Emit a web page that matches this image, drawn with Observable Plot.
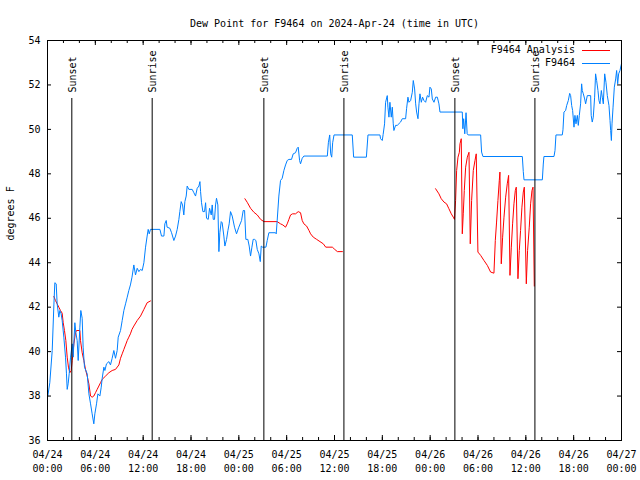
<!DOCTYPE html>
<html><head><meta charset="utf-8">
<script src="https://cdn.jsdelivr.net/npm/d3@7"></script>
<script src="https://cdn.jsdelivr.net/npm/@observablehq/plot@0.6"></script>
<style>body{margin:0;background:#fff}</style>
</head><body><div id="chart"></div>
<script>
const title = "Dew Point for F9464 on 2024-Apr-24 (time in UTC)";
const yLabel = "degrees F";
const startUTC = Date.UTC(2024, 3, 24, 0, 0);
const endUTC = Date.UTC(2024, 3, 27, 0, 0);
const yTicks = [36, 38, 40, 42, 44, 46, 48, 50, 52, 54];
const xLabelHours = [0, 6, 12, 18, 24, 30, 36, 42, 48, 54, 60, 66, 72];
const xMinorHours = [0, 2, 4, 6, 8, 10, 12, 14, 16, 18, 20, 22, 24, 26, 28, 30, 32, 34, 36, 38, 40, 42, 44, 46, 48, 50, 52, 54, 56, 58, 60, 62, 64, 66, 68, 70, 72];
const sunLabels = ["Sunset", "Sunrise", "Sunset", "Sunrise", "Sunset", "Sunrise"];
const sunHours = [3.05, 13.13, 27.14, 37.18, 51.1, 61.14];
const legendNames = ["F9464 Analysis", "F9464"];
const seriesColors = ["#ff0000", "#0080ff"];

// hours since 2024-04-24 00:00 UTC
const blueHours = [0.04,0.29,0.59,0.80,0.92,1.09,1.21,1.42,1.55,1.71,1.84,2.05,2.26,2.38,2.47,2.59,2.72,2.89,3.10,3.22,3.43,3.56,3.72,3.85,4.06,4.18,4.35,4.47,4.64,4.98,5.19,5.40,5.60,5.81,5.94,6.15,6.32,6.57,6.74,6.86,7.07,7.20,7.40,7.70,7.90,8.11,8.32,8.53,8.74,8.87,9.16,9.37,9.58,9.79,10.0,10.2,10.4,10.6,10.83,11.04,11.25,11.46,11.67,11.88,12.09,12.3,12.5,12.63,12.76,12.92,14.1,14.3,14.6,14.72,14.89,15.0,15.35,15.56,15.85,16.06,16.27,16.48,16.6,16.77,16.94,17.1,17.23,17.4,17.52,17.73,18.15,18.36,18.57,18.78,18.99,19.12,19.2,19.32,19.49,19.7,19.83,19.95,20.16,20.33,20.54,20.66,20.79,20.95,21.08,21.2,21.37,21.5,21.62,21.79,21.91,22.12,22.25,22.46,22.63,22.79,22.96,23.17,23.46,23.71,24.0,24.34,24.55,24.72,24.88,25.13,25.3,25.47,25.64,25.8,25.97,26.14,26.31,26.52,26.69,26.81,26.98,27.4,27.56,27.77,28.6,28.69,28.81,29.02,29.23,29.44,29.65,29.86,30.07,30.28,30.61,30.82,31.11,31.32,31.45,31.62,31.74,31.95,32.16,35.1,35.23,35.4,35.52,35.65,35.77,35.94,38.23,38.4,40.0,40.2,41.7,41.78,41.99,42.1,42.28,42.41,42.62,42.7,42.83,42.95,43.12,43.25,43.37,43.45,43.66,43.87,44.29,44.5,44.92,45.04,45.21,45.34,45.55,45.76,45.88,46.05,46.18,46.3,46.47,46.6,46.72,46.89,47.05,47.22,47.43,47.64,47.85,47.97,48.14,48.27,48.48,48.69,48.9,49.1,49.23,52.03,52.1,52.2,52.34,52.5,52.64,52.76,54.33,54.45,54.62,59.56,59.68,59.77,62.07,62.19,62.27,63.53,63.66,63.78,64.57,64.66,64.78,64.99,65.12,65.33,65.5,65.62,65.75,65.87,66.04,66.16,66.29,66.46,66.58,66.71,66.87,67.0,67.08,67.21,67.38,67.5,67.71,68.13,68.2,68.33,68.46,68.63,68.75,68.88,69.05,69.17,69.3,69.47,69.59,69.72,69.89,70.05,70.22,70.43,70.56,70.64,70.73,70.81,70.94,71.1,71.27,71.39,71.52,71.64,71.81,71.94,72.0];
const blueValues = [38.0,38.6,40.05,42.1,43.1,43.05,42.15,41.55,41.85,41.7,41.4,40.65,39.75,39.0,38.3,38.55,39.0,39.75,40.35,39.75,41.3,40.85,40.5,39.6,41.1,41.85,41.5,40.2,39.3,39.0,38.1,37.65,37.2,36.75,37.2,37.65,38.1,38.0,38.4,38.8,39.3,39.15,39.45,39.55,39.4,39.7,40.05,39.7,40.05,40.65,40.95,41.4,41.85,42.15,42.45,42.75,43.0,43.35,43.9,43.45,43.75,43.6,43.7,43.65,44.0,44.7,45.2,45.5,45.3,45.5,45.5,45.2,45.2,45.75,45.9,45.6,45.55,45.35,45.0,45.2,45.5,45.95,46.3,46.75,46.6,46.15,46.75,47.0,47.45,47.3,47.3,47.15,47.0,47.35,47.45,47.65,47.2,46.7,46.3,46.3,46.7,46.0,45.95,46.45,46.15,46.6,45.95,45.95,46.6,46.9,46.6,44.5,45.35,45.85,45.8,45.2,44.75,45.05,45.45,45.75,46.3,46.1,45.6,45.3,45.6,45.9,46.35,46.35,45.05,45.05,44.75,44.3,44.7,45.05,45.05,45.0,44.6,44.4,44.05,44.75,44.7,44.7,45.0,45.35,45.35,45.3,45.9,47.0,47.7,47.8,48.15,48.4,48.6,48.65,48.65,48.9,48.95,49.15,49.2,48.6,48.45,48.7,48.8,48.8,49.4,49.75,48.9,48.75,49.4,49.75,49.75,48.75,48.75,49.75,49.75,49.58,49.5,49.77,50.25,51.22,51.52,51.0,50.55,51.22,50.55,51.0,50.25,49.95,50.18,50.18,50.33,50.48,50.48,50.93,51.45,51.22,51.3,51.67,52.2,51.82,51.15,50.78,50.48,51.15,51.6,51.22,51.45,51.3,51.22,51.52,51.45,51.9,51.82,51.37,51.22,51.45,51.45,51.15,50.78,50.78,50.03,50.48,49.8,50.75,49.8,49.75,49.75,48.98,48.78,48.78,48.1,47.73,47.73,48.44,48.78,48.78,49.05,49.75,49.75,49.98,50.78,50.85,51.07,51.3,51.62,51.52,51.07,50.85,50.1,50.63,50.25,50.63,50.18,50.63,51.15,52.05,51.75,51.6,51.37,51.15,51.52,51.52,50.63,50.33,50.55,51.45,52.5,52.2,51.75,51.3,51.15,51.75,51.45,51.15,52.5,52.12,51.52,51.07,50.4,49.95,49.5,50.25,51.0,51.9,52.27,52.65,52.05,52.5,52.65,52.87,52.95];

// null marks a gap between analysis runs
const redHours = [0.8,1.0,1.21,1.42,1.63,1.84,1.97,2.13,2.3,2.47,2.63,2.8,2.97,3.1,3.31,3.51,3.64,4.06,4.14,4.35,4.56,4.77,4.98,5.19,5.4,5.6,5.81,6.02,6.23,6.44,6.65,6.86,7.28,7.7,8.11,8.53,8.95,9.16,9.37,9.58,9.79,10.0,10.2,10.4,10.6,10.83,11.25,11.67,12.09,12.5,12.92,
  null,
  24.76,25.05,25.47,25.89,26.31,26.73,27.14,28.81,29.23,29.52,29.86,30.07,30.28,30.49,30.74,31.11,31.45,31.74,31.95,32.16,32.5,32.8,33.0,33.34,33.76,34.18,34.6,34.9,35.73,36.03,36.36,36.99,
  null,
  48.68,49.1,49.39,49.73,50.06,50.35,50.65,50.9,51.05,51.19,51.32,51.49,51.66,51.74,51.9,52.03,52.15,52.28,52.45,52.66,52.87,53.03,53.2,53.41,53.62,53.78,53.99,54.33,54.75,55.17,55.58,56.0,56.17,56.33,56.5,56.67,56.75,56.92,57.09,57.26,57.47,57.67,57.84,58.01,58.18,58.34,58.51,58.68,58.8,59.01,59.18,59.34,59.51,59.68,59.81,60.06,60.22,60.43,60.6,60.77,60.9,61.06];
const redValues = [42.48,42.3,42.15,42.0,41.85,41.73,41.3,40.95,40.5,39.75,39.3,39.05,39.15,39.6,40.35,40.85,40.95,40.95,40.5,39.95,39.6,39.2,38.9,38.55,38.0,37.95,38.0,38.15,38.3,38.45,38.6,38.75,38.9,39.05,39.15,39.2,39.4,39.7,39.9,40.1,40.3,40.5,40.65,40.8,41.0,41.15,41.4,41.6,41.9,42.2,42.28,
  null,
  46.88,46.72,46.45,46.27,46.15,45.95,45.85,45.85,45.75,45.7,45.6,45.75,45.95,46.15,46.2,46.2,46.3,46.25,45.9,45.75,45.65,45.45,45.3,45.15,45.05,44.95,44.85,44.7,44.7,44.6,44.5,44.5,
  null,
  47.33,47.1,46.88,46.73,46.65,46.43,46.2,46.05,45.95,46.8,48.15,48.75,48.97,49.35,49.58,45.3,46.2,47.25,48.3,48.75,48.97,44.85,46.8,48.15,48.6,48.9,44.48,44.33,44.1,43.88,43.58,43.53,45.0,45.83,46.8,47.7,48.08,43.95,45.15,46.05,46.95,47.55,47.93,43.43,44.7,45.75,46.65,47.25,47.4,43.28,44.55,45.45,46.5,47.18,47.4,43.05,44.55,45.6,46.65,47.25,47.4,42.95];

const toDate = h => h == null ? null : new Date(startUTC + h * 3600000);
const blue = blueHours.map((h, i) => ({t: toDate(h), v: blueValues[i]}));
const red = redHours.map((h, i) => ({t: toDate(h), v: redValues[i]}));
const sun = sunHours.map((h, i) => ({t: toDate(h), label: sunLabels[i]}));
const xLabelDates = xLabelHours.map(toDate);
const xMinorDates = xMinorHours.map(toDate);

const W = 640, H = 480, mL = 47, mR = 19, mT = 40, mB = 40;
const fw = W - mL - mR, fh = H - mT - mB;
const font = "DejaVu Sans Mono";

const svg = Plot.plot({
  width: W, height: H,
  marginLeft: mL, marginRight: mR, marginTop: mT, marginBottom: mB,
  style: {fontFamily: font, fontSize: "10px", background: "white", color: "black"},
  x: {type: "utc", domain: [new Date(startUTC), new Date(endUTC)]},
  y: {domain: [36, 54]},
  marks: [
    Plot.line(red, {x: "t", y: "v", stroke: seriesColors[0], strokeWidth: 1}),
    Plot.line(blue, {x: "t", y: "v", stroke: seriesColors[1], strokeWidth: 1}),
    Plot.ruleX(sun, {x: "t", insetTop: 58, stroke: "black", strokeWidth: 1}),
    Plot.text(sun, {x: "t", text: "label", rotate: -90, frameAnchor: "top", dy: 52, dx: -3, textAnchor: "start", fill: "black"}),
    Plot.tickY(yTicks, {y: d => d, insetRight: fw - 4, stroke: "black"}),
    Plot.tickY(yTicks, {y: d => d, insetLeft: fw - 4, stroke: "black"}),
    Plot.tickX(xMinorDates, {x: d => d, insetTop: fh - 3, stroke: "black"}),
    Plot.tickX(xMinorDates, {x: d => d, insetBottom: fh - 3, stroke: "black"}),
    Plot.tickX(xLabelDates, {x: d => d, insetTop: fh - 5, stroke: "black"}),
    Plot.tickX(xLabelDates, {x: d => d, insetBottom: fh - 5, stroke: "black"}),
    Plot.frame({stroke: "black"}),
    Plot.axisY(yTicks, {tickSize: 0, tickPadding: 7, label: null, tickFormat: d => String(d)}),
    Plot.axisX(xLabelDates, {tickSize: 0, tickPadding: 8, label: null, tickFormat: d3.utcFormat("%m/%d\n%H:%M"), lineHeight: 1.4}),
    Plot.text([yLabel], {frameAnchor: "left", rotate: -90, dx: -37, fill: "black"}),
    Plot.text([title], {frameAnchor: "top", dy: -21, fill: "black"})
  ]
});

const g = d3.select(svg).append("g").attr("font-family", font).attr("font-size", 10);
legendNames.forEach((name, i) => {
  const y = 50 + i * 13;
  g.append("text").attr("x", 575).attr("y", y).attr("dy", "0.32em").attr("text-anchor", "end").attr("fill", "black").text(name);
  g.append("line").attr("x1", 582).attr("x2", 610).attr("y1", y + 0.5).attr("y2", y + 0.5).attr("stroke", seriesColors[i]);
});

document.getElementById("chart").appendChild(svg);
</script>
</body></html>
